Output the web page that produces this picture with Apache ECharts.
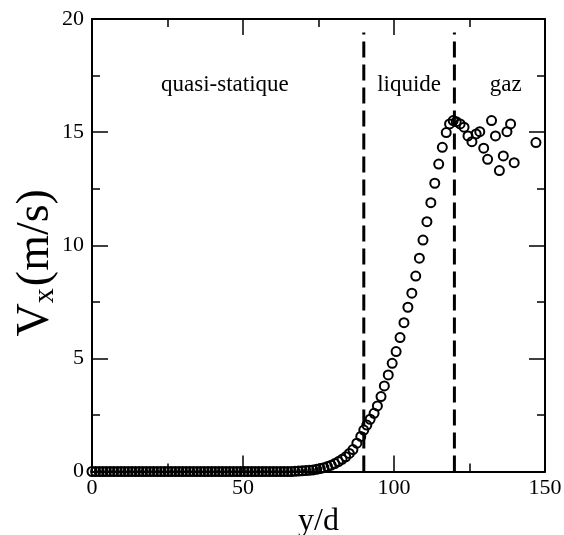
<!DOCTYPE html>
<html><head><meta charset="utf-8">
<script src="https://cdn.jsdelivr.net/npm/echarts@6/dist/echarts.min.js"></script>
<style>html,body{margin:0;padding:0;background:#fff}#c{width:564px;height:535px}</style>
</head><body><div id="c"></div>
<script>
// y/d positions of the measured points
const xValues = [
  0, 1.2, 2.4, 3.6, 4.8, 6, 7.2, 8.4, 9.6, 10.8, 12, 13.2, 14.4, 15.6, 16.8, 18, 19.2, 20.4, 21.6, 22.8,
  24, 25.2, 26.4, 27.6, 28.8, 30, 31.2, 32.4, 33.6, 34.8, 36, 37.2, 38.4, 39.6, 40.8, 42, 43.2, 44.4, 45.6, 46.8,
  48, 49.2, 50.4, 51.6, 52.8, 54, 55.2, 56.4, 57.6, 58.8, 60, 61.2, 62.4, 63.6, 64.8, 66, 67.2, 68.4, 69.6, 70.8,
  72, 73.2, 74.4, 75.6, 76.8, 78, 79.2, 80.4, 81.6, 82.8, 84, 85.2, 86.4, 87.7, 89.0, 90.0, 91.0, 92.1, 93.4, 94.5,
  95.7, 96.8, 98.1, 99.4, 100.7, 102.0, 103.3, 104.6, 105.9, 107.2, 108.4, 109.6, 110.9, 112.2, 113.5, 114.8, 116.0, 117.3, 118.4, 119.6,
  120.6, 121.9, 123.2, 124.5, 125.8, 127.2, 128.4, 129.7, 131.0, 132.3, 133.6, 134.9, 136.2, 137.4, 138.6, 139.8, 147.0
];
// Vx (m/s) of the measured points
const vxValues = [
  0, 0, 0, 0, 0, 0, 0, 0, 0, 0, 0, 0, 0, 0, 0, 0, 0, 0, 0, 0,
  0, 0, 0, 0, 0, 0, 0, 0, 0, 0, 0, 0, 0, 0, 0, 0, 0, 0, 0, 0,
  0, 0, 0, 0, 0, 0, 0, 0, 0, 0, 0, 0, 0, 0, 0, 0, 0.01, 0.02, 0.03, 0.04,
  0.05, 0.07, 0.10, 0.13, 0.17, 0.22, 0.28, 0.35, 0.44, 0.54, 0.65, 0.80, 0.97, 1.25, 1.55, 1.83, 2.05, 2.31, 2.57, 2.90,
  3.31, 3.78, 4.27, 4.78, 5.30, 5.92, 6.58, 7.26, 7.88, 8.64, 9.43, 10.23, 11.04, 11.88, 12.74, 13.59, 14.33, 14.98, 15.36, 15.51,
  15.46, 15.36, 15.22, 14.83, 14.58, 14.92, 15.02, 14.29, 13.80, 15.51, 14.83, 13.30, 13.95, 15.02, 15.36, 13.65, 14.54
];
const regionBounds = [90, 120];
const boundaryTop = 19.4;
const regionLabels = ['quasi-statique', 'liquide', 'gaz'];
const regionLabelX = [44, 105, 137];
const regionLabelY = 17.1;

const FONT = 'Liberation Serif';
const pts = xValues.map((x, i) => [x, vxValues[i]]);

const tickCommon = {
  axisLine: { show: true, onZero: false, lineStyle: { color: '#000', width: 2 } },
  axisTick: { show: true, inside: true, length: 16, lineStyle: { color: '#000', width: 1.5 } },
  minorTick: { show: true, splitNumber: 2, length: 8, lineStyle: { color: '#000', width: 1.5 } },
  splitLine: { show: false },
  minorSplitLine: { show: false }
};

const chart = echarts.init(document.getElementById('c'), null, { renderer: 'canvas' });
chart.setOption({
  backgroundColor: '#fff',
  animation: false,
  grid: { left: 92, right: 19, top: 19, bottom: 63.5, containLabel: false, outerBoundsMode: 'none' },
  xAxis: [
    Object.assign({
      type: 'value', min: 0, max: 150, interval: 50, position: 'bottom',
      axisLabel: { fontFamily: FONT, fontSize: 22, color: '#000', margin: 6 },
      name: 'y/d', nameLocation: 'middle', nameGap: 34, nameMoveOverlap: false,
      nameTextStyle: { fontFamily: FONT, fontSize: 32, color: '#000' }
    }, tickCommon),
    Object.assign({
      type: 'value', min: 0, max: 150, interval: 50, position: 'top',
      axisLabel: { show: false }
    }, tickCommon)
  ],
  yAxis: [
    Object.assign({
      type: 'value', min: 0, max: 20, interval: 5, position: 'left',
      axisLabel: { fontFamily: FONT, fontSize: 22, color: '#000', margin: 8 },
      name: '{v|V}{s|x}{p|(m/s)}', nameLocation: 'middle', nameRotate: 90, nameGap: 32, nameMoveOverlap: false,
      nameTextStyle: {
        fontFamily: FONT, fontSize: 46, color: '#000',
        rich: {
          v: { fontFamily: FONT, fontSize: 46, color: '#000' },
          s: { fontFamily: FONT, fontSize: 30, color: '#000', padding: [18, 2, 0, 0] },
          p: { fontFamily: FONT, fontSize: 46, color: '#000', padding: [0, 35, 0, 0] }
        }
      }
    }, tickCommon),
    Object.assign({
      type: 'value', min: 0, max: 20, interval: 5, position: 'right',
      axisLabel: { show: false }
    }, tickCommon)
  ],
  series: [
    {
      type: 'line', xAxisIndex: 0, yAxisIndex: 0, showSymbol: false, silent: true,
      data: [[regionBounds[0], 0], [regionBounds[0], boundaryTop]],
      lineStyle: { color: '#000', width: 3, type: [16, 7] }
    },
    {
      type: 'line', xAxisIndex: 0, yAxisIndex: 0, showSymbol: false, silent: true,
      data: [[regionBounds[1], 0], [regionBounds[1], boundaryTop]],
      lineStyle: { color: '#000', width: 3, type: [16, 7] }
    },
    {
      type: 'scatter', xAxisIndex: 0, yAxisIndex: 0, clip: false,
      symbol: 'circle', symbolSize: 9,
      itemStyle: { color: 'rgba(0,0,0,0)', borderColor: '#000', borderWidth: 2, opacity: 1 },
      data: pts, z: 3
    },
    {
      type: 'scatter', xAxisIndex: 0, yAxisIndex: 0, symbolSize: 0, silent: true,
      itemStyle: { opacity: 1 },
      data: regionLabels.map((t, i) => ({ value: [regionLabelX[i], regionLabelY], name: t })),
      label: {
        show: true, position: 'inside', formatter: p => p.name,
        fontFamily: FONT, fontSize: 23, color: '#000'
      }
    }
  ]
});
</script>
</body></html>
